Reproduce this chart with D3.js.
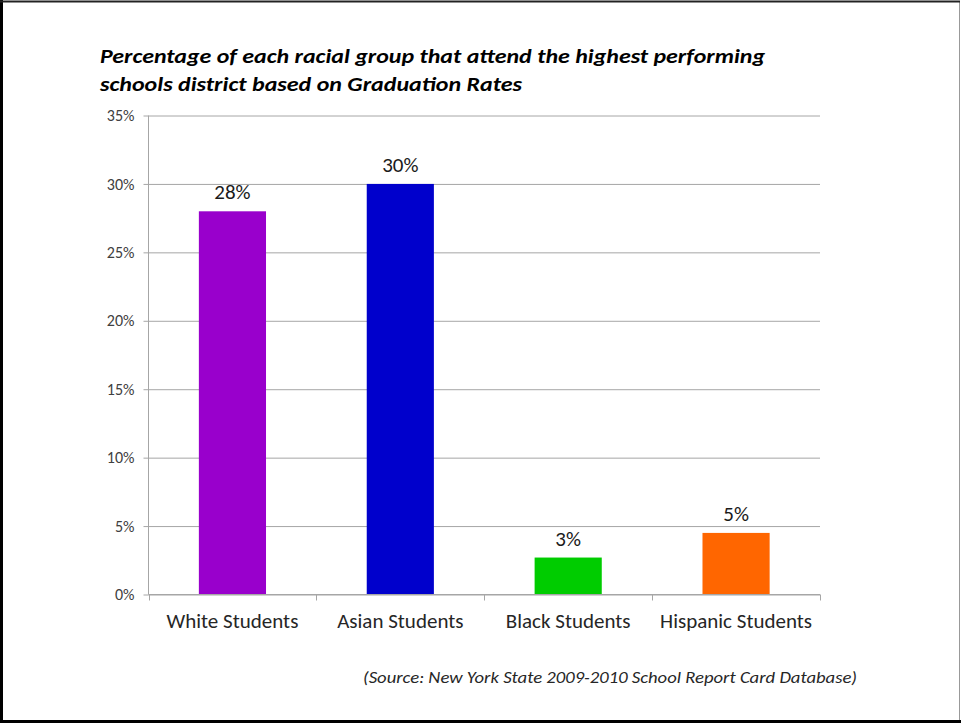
<!DOCTYPE html>
<html>
<head>
<meta charset="utf-8">
<script src="https://cdn.jsdelivr.net/npm/d3@7"></script>
<style>
  html, body { margin: 0; padding: 0; background: #fff; }
  svg { display: block; }
  text { font-family: Carlito, Lato, "Open Sans", sans-serif; }
</style>
</head>
<body>
<svg id="chart" width="961" height="723"></svg>
<script>
const categories = ["White Students", "Asian Students", "Black Students", "Hispanic Students"];
const values = [0.28, 0.30, 0.027, 0.045];
const barColors = ["#9900cc", "#0000cc", "#00cc00", "#ff6600"];
const yTicks = [0, 0.05, 0.10, 0.15, 0.20, 0.25, 0.30, 0.35];
const titleLines = ["Percentage of each racial group that attend the highest performing",
                    "schools district based on Graduation Rates"];
const sourceText = "(Source: New York State 2009-2010 School Report Card Database)";

const svg = d3.select("#chart");
const W = 961, H = 723;
const plot = { left: 148.5, right: 820, top: 115.5, bottom: 594.5 };
const FONT = "Carlito, Lato, 'Open Sans', sans-serif";

// frame
svg.append("rect").attr("x", 0).attr("y", 0).attr("width", W).attr("height", H).attr("fill", "#fff");
svg.append("line").attr("x1", 959.5).attr("x2", 959.5).attr("y1", 2).attr("y2", 721).attr("stroke", "#999").attr("stroke-width", 1);
svg.append("line").attr("x1", 1.5).attr("x2", 1.5).attr("y1", 0).attr("y2", 723).attr("stroke", "#000").attr("stroke-width", 3);
svg.append("line").attr("x1", 0).attr("x2", 960).attr("y1", 1.5).attr("y2", 1.5).attr("stroke", "#222").attr("stroke-width", 2);
svg.append("line").attr("x1", 0).attr("x2", 961).attr("y1", 721.5).attr("y2", 721.5).attr("stroke", "#000").attr("stroke-width", 3);

const x = d3.scaleBand().domain(categories).range([plot.left, plot.right]).paddingInner(0.6).paddingOuter(0.3);
const y = d3.scaleLinear().domain([0, 0.35]).range([plot.bottom, plot.top]);

// gridlines + y axis
const yAxis = d3.axisLeft(y).tickValues(yTicks).tickFormat(d3.format(".0%")).tickSizeInner(-(plot.right - plot.left)).tickSizeOuter(0).tickPadding(14);
const gy = svg.append("g").attr("transform", `translate(${plot.left},0)`).call(yAxis)
  .attr("font-family", FONT).attr("font-size", 16);
gy.select(".domain").remove();
gy.selectAll(".tick line").attr("stroke", "#a6a6a6").attr("stroke-width", 1);
gy.selectAll(".tick").append("line").attr("x1", -5).attr("x2", 0).attr("stroke", "#a6a6a6");
gy.selectAll(".tick text").attr("fill", "#404040");

// y axis line
svg.append("line").attr("x1", plot.left).attr("x2", plot.left).attr("y1", plot.top).attr("y2", plot.bottom)
  .attr("stroke", "#a6a6a6");

// bars
svg.append("g").selectAll("rect").data(categories).join("rect")
  .attr("x", d => x(d))
  .attr("y", (d, i) => y(values[i]))
  .attr("width", x.bandwidth())
  .attr("height", (d, i) => y(0) - y(values[i]))
  .attr("fill", (d, i) => barColors[i]);

// x axis baseline and ticks at category boundaries
svg.append("line").attr("x1", plot.left).attr("x2", plot.right).attr("y1", plot.bottom).attr("y2", plot.bottom).attr("stroke", "#a6a6a6");
const bounds = categories.map(d => x(d) - x.step() * x.paddingOuter()).concat([plot.right]);
svg.append("g").selectAll("line").data(bounds).join("line")
  .attr("x1", d => Math.round(d) + 0.5).attr("x2", d => Math.round(d) + 0.5)
  .attr("y1", plot.bottom).attr("y2", plot.bottom + 6)
  .attr("stroke", "#a6a6a6");

// category labels
svg.append("g").selectAll("text").data(categories).join("text")
  .attr("x", d => x(d) + x.bandwidth() / 2)
  .attr("y", 628)
  .attr("text-anchor", "middle")
  .attr("font-size", 21)
  .attr("fill", "#262626")
  .text(d => d);

// value labels
svg.append("g").selectAll("text").data(categories).join("text")
  .attr("x", d => x(d) + x.bandwidth() / 2)
  .attr("y", (d, i) => y(values[i]) - 12)
  .attr("text-anchor", "middle")
  .attr("font-size", 21)
  .attr("fill", "#1a1a1a")
  .text((d, i) => Math.round(values[i] * 100) + "%");

// title
svg.append("text").attr("x", 100).attr("y", 63)
  .attr("font-size", 21).attr("font-weight", "bold").attr("font-style", "italic").attr("fill", "#000")
  .attr("textLength", 665).attr("lengthAdjust", "spacingAndGlyphs")
  .text(titleLines[0]);
svg.append("text").attr("x", 100).attr("y", 91)
  .attr("font-size", 21).attr("font-weight", "bold").attr("font-style", "italic").attr("fill", "#000")
  .attr("textLength", 422).attr("lengthAdjust", "spacingAndGlyphs")
  .text(titleLines[1]);

// source
svg.append("text").attr("x", 363).attr("y", 683)
  .attr("font-size", 16).attr("font-style", "italic").attr("fill", "#262626")
  .attr("textLength", 494).attr("lengthAdjust", "spacingAndGlyphs")
  .text(sourceText);
</script>
</body>
</html>
